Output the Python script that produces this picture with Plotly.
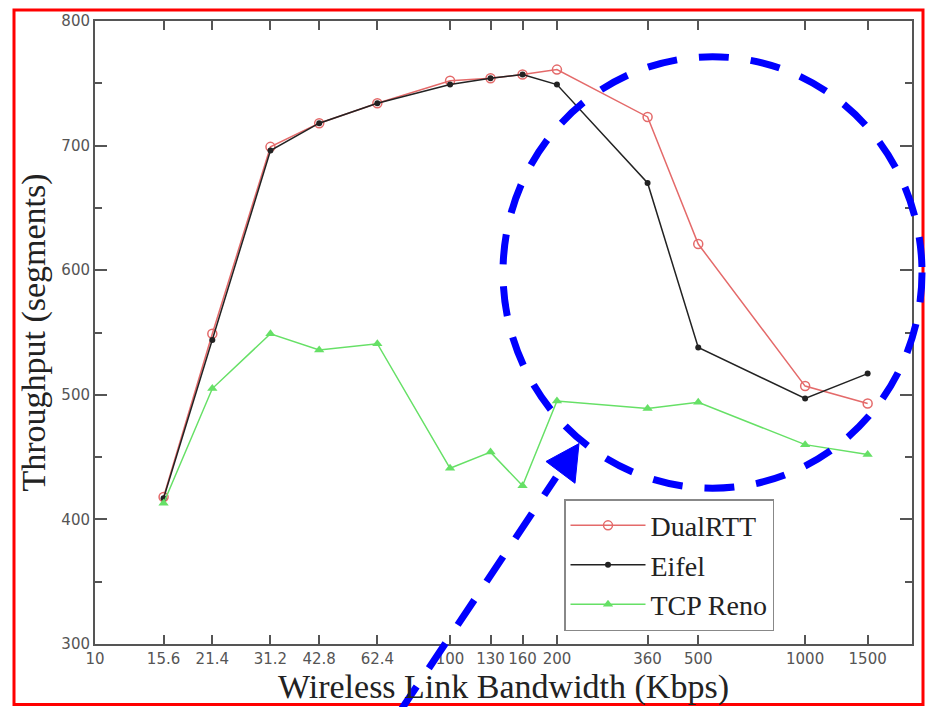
import plotly.graph_objects as go

# ---- data ----
bandwidth = [15.6, 21.4, 31.2, 42.8, 62.4, 100, 130, 160, 200, 360, 500, 1000, 1500]
dualrtt = [418, 549, 699, 718, 734, 752, 754, 757, 761, 723, 621, 507, 493]
eifel = [417, 544, 696, 718, 734, 749, 754, 757, 749, 670, 538, 497, 517]
reno = [413, 505, 549, 536, 541, 441, 454, 427, 495, 489, 494, 460, 452]
x_tick_vals = [10, 15.6, 21.4, 31.2, 42.8, 62.4, 100, 130, 160, 200, 360, 500, 1000, 1500]
x_tick_text = ["10", "15.6", "21.4", "31.2", "42.8", "62.4", "100", "130", "160", "200",
               "360", "500", "1000", "1500"]
y_tick_vals = [300, 400, 500, 600, 700, 800]

W, H = 926, 707
L, R, T, B = 95, 14, 16, 63
PW, PH = W - L - R, H - T - B


def px(x):
    return (x - L) / PW


def py(y):
    return (H - B - y) / PH


fig = go.Figure()
fig.add_trace(go.Scatter(
    x=bandwidth, y=dualrtt, name="DualRTT", mode="lines+markers",
    line=dict(color="#e46a6a", width=1.5),
    marker=dict(symbol="circle-open", size=9, color="#e46a6a", line=dict(width=1.5)),
))
fig.add_trace(go.Scatter(
    x=bandwidth, y=eifel, name="Eifel", mode="lines+markers",
    line=dict(color="#222222", width=1.5),
    marker=dict(symbol="circle", size=6, color="#222222"),
))
fig.add_trace(go.Scatter(
    x=bandwidth, y=reno, name="TCP Reno", mode="lines+markers",
    line=dict(color="#66e066", width=1.5),
    marker=dict(symbol="triangle-up", size=9, color="#66e066"),
))

shapes = [
    # red frame
    dict(type="rect", xref="paper", yref="paper",
         x0=px(14), x1=px(923), y0=py(705), y1=py(5),
         line=dict(color="#ff0000", width=3)),
    # blue dashed ellipse
    dict(type="circle", xref="paper", yref="paper",
         x0=px(503), x1=px(922), y0=py(487), y1=py(52),
         line=dict(color="#0000ff", width=7, dash="30px,22px")),
    # dashed arrow shaft
    dict(type="line", xref="paper", yref="paper",
         x0=px(400), y0=py(712), x1=px(556), y1=py(476),
         line=dict(color="#0000ff", width=7, dash="30px,22px")),
    # arrow head
    dict(type="path", xref="paper", yref="paper",
         path="M {:.4f} {:.4f} L {:.4f} {:.4f} L {:.4f} {:.4f} Z".format(
             px(546), py(460), px(579), py(442), px(575), py(482)),
         fillcolor="#0000ff", line=dict(color="#0000ff", width=1)),
]

fig.update_layout(
    width=W, height=H,
    margin=dict(l=L, r=R, t=T, b=B, pad=0),
    paper_bgcolor="white", plot_bgcolor="white",
    showlegend=True,
    legend=dict(
        x=px(564), y=py(498), xanchor="left", yanchor="top",
        bgcolor="white", bordercolor="#888888", borderwidth=1.5,
        font=dict(family="Liberation Serif", size=28, color="#222222"),
        itemwidth=75, tracegroupgap=0,
    ),
    shapes=shapes,
)

fig.update_xaxes(
    type="log", range=[1, 3.301],
    tickvals=x_tick_vals, ticktext=x_tick_text,
    ticks="inside", ticklen=9, tickwidth=1.5, tickcolor="#555555",
    showline=True, linecolor="#555555", linewidth=2, mirror="ticks",
    showgrid=False, zeroline=False,
    tickfont=dict(family="DejaVu Sans", size=15, color="#555555"),
    title=dict(text="Wireless Link Bandwidth (Kbps)", standoff=3,
               font=dict(family="Liberation Serif", size=34, color="#222222")),
)
fig.update_yaxes(
    range=[300, 800], tickvals=y_tick_vals,
    ticks="inside", ticklen=12, tickwidth=1.5, tickcolor="#555555",
    minor=dict(dtick=50, ticks="inside", ticklen=7, tickcolor="#555555", tickwidth=1.5),
    showline=True, linecolor="#555555", linewidth=2, mirror="ticks",
    showgrid=False, zeroline=False,
    tickfont=dict(family="DejaVu Sans", size=15, color="#555555"),
    title=dict(text="Throughput (segments)", standoff=5,
               font=dict(family="Liberation Serif", size=34, color="#222222")),
)

fig.write_html("out.html")
